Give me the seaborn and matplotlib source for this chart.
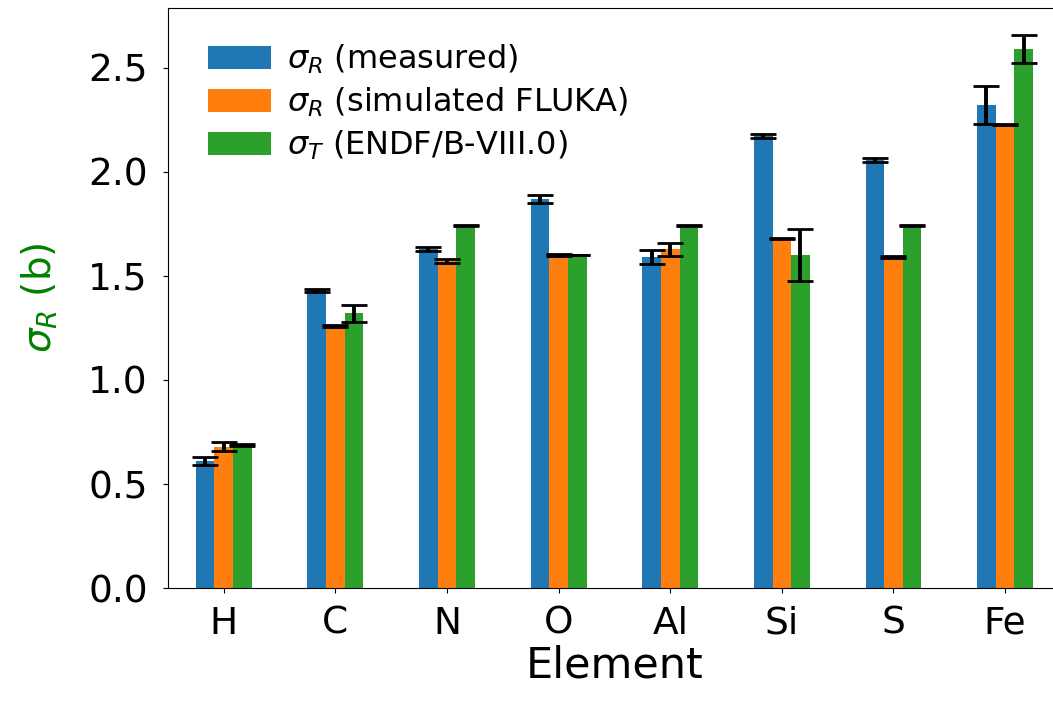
import numpy as np
import pandas as pd
import matplotlib
matplotlib.use("Agg")
import matplotlib.pyplot as plt
import seaborn as sns

# Cross sections per element (barn)
elements = ["H", "C", "N", "O", "Al", "Si", "S", "Fe"]
measured = [0.61, 1.43, 1.63, 1.87, 1.59, 2.17, 2.055, 2.32]
measured_err = [0.02, 0.008, 0.01, 0.018, 0.032, 0.01, 0.01, 0.091]
fluka = [0.68, 1.26, 1.57, 1.60, 1.628, 1.68, 1.59, 2.228]
fluka_err = [0.02, 0.004, 0.01, 0.003, 0.032, 0.004, 0.004, 0.003]
endf = [0.688, 1.32, 1.74, 1.60, 1.74, 1.60, 1.74, 2.589]
endf_err = [0.003, 0.04, 0.002, 0.002, 0.002, 0.125, 0.002, 0.066]

series_labels = [r"$\sigma_R$ (measured)",
                 r"$\sigma_R$ (simulated FLUKA)",
                 r"$\sigma_T$ (ENDF/B-VIII.0)"]
series_values = [measured, fluka, endf]
series_errors = [measured_err, fluka_err, endf_err]
colors = ["#1f77b4", "#ff7f0e", "#2ca02c"]

df = pd.DataFrame({
    "Element": np.tile(elements, 3),
    "sigma": np.concatenate(series_values),
    "err": np.concatenate(series_errors),
    "series": np.repeat(series_labels, len(elements)),
})

sns.set_style("ticks", rc={
    "text.color": "black", "axes.labelcolor": "black",
    "xtick.color": "black", "ytick.color": "black",
    "axes.edgecolor": "black", "axes.linewidth": 1.5,
    "xtick.major.width": 1.5, "ytick.major.width": 1.5,
    "xtick.major.size": 7, "ytick.major.size": 7,
})
plt.rcParams["font.family"] = ["DejaVu Sans"]

fig = plt.figure(figsize=(10.53, 7.10), dpi=100)
ax = fig.add_axes([0.1595, 0.1714, 0.848, 0.818])

sns.barplot(data=df, x="Element", y="sigma", hue="series",
            hue_order=series_labels, order=elements, palette=colors,
            saturation=1, width=0.5, errorbar=None, linewidth=0, ax=ax)

# Error bars at the centre of each drawn bar
for container, errs in zip(ax.containers, series_errors):
    xs = [p.get_x() + p.get_width() / 2 for p in container.patches]
    ys = [p.get_height() for p in container.patches]
    ax.errorbar(xs, ys, yerr=errs, fmt="none", ecolor="black",
                elinewidth=2.8, capsize=9.5, capthick=2.0, zorder=5)

ax.set_ylim(0, 2.788)
ax.set_xlim(-0.5, 7.5)
ax.set_yticks([0.0, 0.5, 1.0, 1.5, 2.0, 2.5])
ax.tick_params(axis="both", labelsize=27)
ax.tick_params(axis="y", pad=11)
ax.tick_params(axis="x", pad=9)
ax.set_xlabel("Element", fontsize=31, labelpad=2)
ax.set_ylabel(r"$\sigma_R$ (b)", fontsize=28, color="green", labelpad=20)

ax.legend(loc="upper left", bbox_to_anchor=(0.005, 1.0), frameon=False,
          fontsize=23, handlelength=2.0, labelspacing=0.3,
          borderaxespad=0.7, handletextpad=0.5)

fig.savefig("out.png", dpi=100)
